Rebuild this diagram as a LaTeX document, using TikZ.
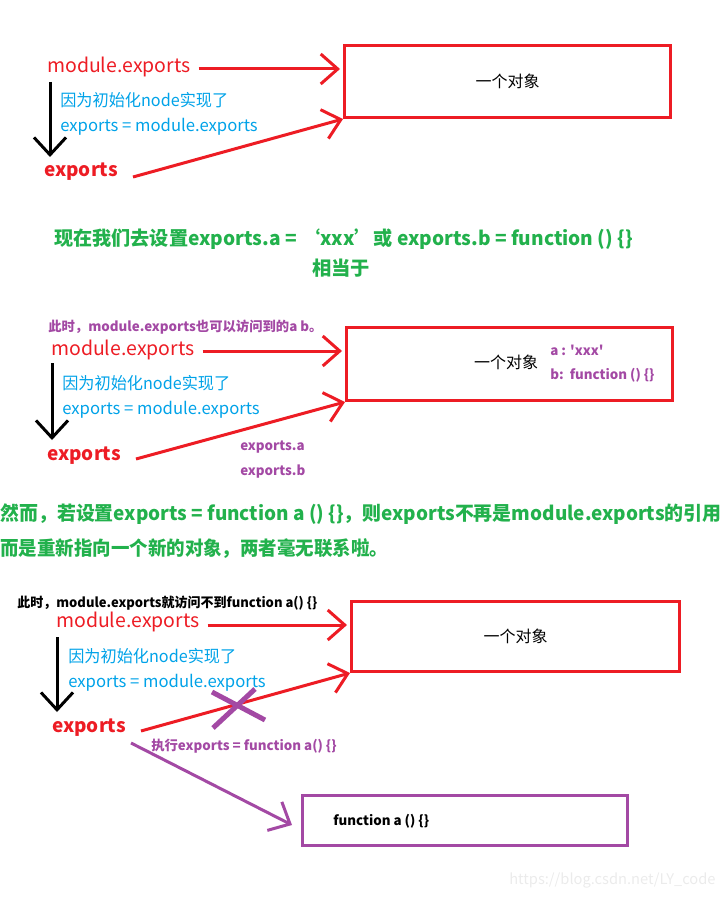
\documentclass[tikz,border=0pt]{standalone}
\usepackage{fontspec}
\usepackage{graphicx}
\setmainfont{Noto Sans CJK SC}
\newfontfamily\nomapfont{Noto Sans CJK SC}[Ligatures=TeXOff]
\usetikzlibrary{arrows.meta,calc}
\definecolor{pred}{HTML}{ED1C24}
\definecolor{pblue}{HTML}{00A2E8}
\definecolor{pgreen}{HTML}{22B14C}
\definecolor{ppurple}{HTML}{A349A4}
\newcommand{\fitw}[2]{\resizebox{#1}{\height}{#2}}
\tikzset{
  lbl/.style={anchor=west,inner sep=0pt,text=pred,font=\fontsize{14.6}{18}\selectfont},
  lblb/.style={anchor=west,inner sep=0pt,text=pred,font=\fontsize{14.2}{18}\selectfont\bfseries},
  note/.style={anchor=west,inner sep=0pt,text=pblue,font=\fontsize{12.5}{15}\selectfont},
  gtext/.style={anchor=west,inner sep=0pt,text=pgreen,font=\fontsize{14.5}{18}\selectfont\bfseries},
  small/.style={anchor=west,inner sep=0pt,font=\fontsize{10}{12}\selectfont\bfseries},
  objbox/.style={draw=pred,line width=2.25pt,anchor=north west,inner sep=0pt,font=\fontsize{12}{14}\selectfont},
  redarr/.style={draw=pred,line width=2.25pt,-{Straight Barb[length=12.75pt,width=22.5pt,line width=2.25pt]}},
  blkarr/.style={draw=black,line width=2.25pt,-{Straight Barb[length=13pt,width=24pt,line width=2.25pt]}},
  purarr/.style={draw=ppurple,line width=2.25pt,-{Straight Barb[length=13pt,width=24pt,line width=2.25pt]}},
}
\begin{document}
\begin{tikzpicture}[x=0.75pt,y=-0.75pt]
\useasboundingbox (0,0) rectangle (726,898);
% ---------- section 1
\node[objbox,minimum width=244.5pt,minimum height=54pt] (box1) at (343,44) {一个对象};
\node[lbl] (me1) at (47,67) {module.exports};
\node[note] (n1a) at (60,100) {\fitw{126pt}{因为初始化node实现了}};
\node[note] (n1b) at (60,127) {exports = module.exports};
\node[lblb] (ex1) at (44,172) {exports};
\coordinate (d1s) at (50,82);
\coordinate (d1e) at (50,157);
\coordinate (e1s) at (133,177);
\draw[redarr] ($(me1.east)+(8,2)$) -- ($(me1.east -| box1.west)+(-3,2)$);
\draw[blkarr] (d1s) -- (d1e);
\draw[redarr] (e1s) -- (box1.south west);
% ---------- green text 1
\node[gtext] (g1) at (54,239) {\fitw{434pt}{现在我们去设置exports.a = ‘xxx’或 exports.b = function () \{\}}};
\node[gtext,anchor=center] (g2) at (341,268) {相当于};
% ---------- section 2
\node[small,text=ppurple] (s2) at (48,327) {此时，module.exports也可以访问到的a b。};
\node[objbox,minimum width=244.5pt,minimum height=54.75pt] (box2) at (345,326) {};
\node[anchor=center,inner sep=0pt,font=\fontsize{12}{14}\selectfont] (obj2) at (506,362) {一个对象};
\node[small,text=ppurple] (pa) at (550,350) {{\nomapfont\bfseries a : 'xxx'}};
\node[small,text=ppurple] (pb) at (550,375) {b:\ \ function () \{\}};
\node[lbl] (me2) at (51,350) {module.exports};
\node[note] (n2a) at (62,383) {\fitw{126pt}{因为初始化node实现了}};
\node[note] (n2b) at (62,410) {exports = module.exports};
\node[lblb] (ex2) at (47,456) {exports};
\node[small,text=ppurple] (ea) at (240,447) {exports.a};
\node[small,text=ppurple] (eb) at (240,472) {exports.b};
\coordinate (d2s) at (52,363);
\coordinate (d2e) at (52,440);
\coordinate (e2s) at (136,459);
\draw[redarr] ($(me2.east)+(8,1)$) -- ($(me2.east -| box2.west)+(-3,1)$);
\draw[blkarr] (d2s) -- (d2e);
\draw[redarr] (e2s) -- (box2.south west);
% ---------- green text 2
\node[gtext] (g3) at (0,514) {\fitw{541pt}{然而，若设置exports = function a () \{\}，则exports不再是module.exports的引用}};
\node[gtext] (g4) at (0,549) {\fitw{291pt}{而是重新指向一个新的对象，两者毫无联系啦。}};
% ---------- section 3
\node[small,text=black] (s3) at (17,603) {\fitw{225pt}{此时，module.exports就访问不到function a() \{\}}};
\node[objbox,minimum width=246pt,minimum height=52.5pt] (box3) at (350,600) {一个对象};
\node[lbl] (me3) at (56,622) {module.exports};
\node[note] (n3a) at (68,656) {\fitw{126pt}{因为初始化node实现了}};
\node[note] (n3b) at (68,683) {exports = module.exports};
\node[lblb] (ex3) at (52,728) {exports};
\node[small,text=ppurple] (run) at (151,746) {执行exports = function a() \{\}};
\node[draw=ppurple,line width=2.25pt,anchor=north west,inner sep=0pt,minimum width=243.75pt,minimum height=37.5pt] (box4) at (301,794) {};
\node[small,text=black] (fa) at (333,821) {function a () \{\}};
\coordinate (d3s) at (57,637);
\coordinate (d3e) at (57,712);
\coordinate (e3s) at (141,731);
\coordinate (p3s) at (131,743);
\coordinate (p3e) at (292,825);
\draw[redarr] ($(me3.east)+(8,3)$) -- ($(me3.east -| box3.west)+(-3,3)$);
\draw[blkarr] (d3s) -- (d3e);
\draw[redarr] (e3s) -- (box3.south west);
\coordinate (x1a) at (212,692);
\coordinate (x1b) at (265,720);
\coordinate (x2a) at (213,728);
\coordinate (x2b) at (255,689);
\draw[ppurple,line width=3.75pt] (x1a) -- (x1b);
\draw[ppurple,line width=3.75pt] (x2a) -- (x2b);
\draw[purarr] (p3s) -- (p3e);
% ---------- watermark
\node[anchor=west,inner sep=0pt,text=black!8,font=\fontsize{11}{13}\selectfont] (wm) at (509,880) {https://blog.csdn.net/LY\_code};
\end{tikzpicture}
\end{document}
